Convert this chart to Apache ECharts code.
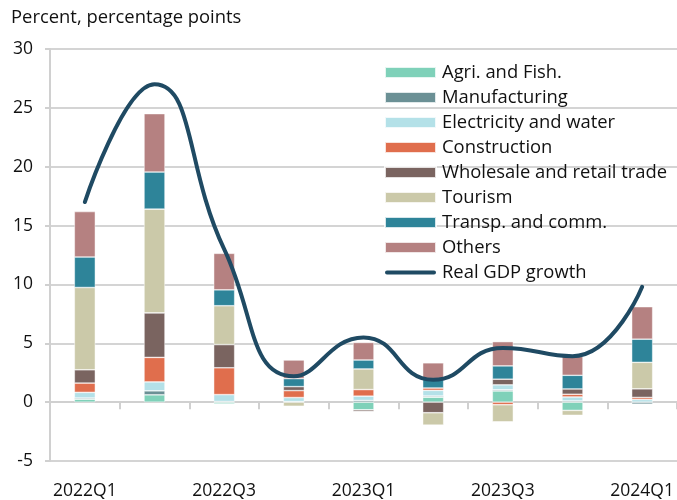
<!DOCTYPE html>
<html><head><meta charset="utf-8">
<script src="https://cdn.jsdelivr.net/npm/echarts@6/dist/echarts.min.js"></script>
<style>html,body{margin:0;padding:0;background:#fff}#c{width:677px;height:500px}</style>
</head><body><div id="c"></div>
<script>
var categories = ['2022Q1','2022Q2','2022Q3','2022Q4','2023Q1','2023Q2','2023Q3','2023Q4','2024Q1'];
var agri      = [0.25, 0.62, -0.15, 0.05, -0.65, 0.42, 0.95, -0.70, 0.00];
var manuf     = [0.10, 0.34, 0.05, 0.00, 0.14, 0.10, 0.10, 0.10, -0.17];
var elec      = [0.48, 0.76, 0.59, 0.34, 0.37, 0.48, 0.42, 0.34, 0.23];
var constr    = [0.79, 2.08, 2.28, 0.59, 0.56, 0.20, -0.22, 0.23, 0.17];
var wholesale = [1.13, 3.78, 1.97, 0.34, -0.14, -0.90, 0.48, 0.45, 0.73];
var tourism   = [6.99, 8.82, 3.30, -0.35, 1.75, -1.05, -1.45, -0.42, 2.25];
var transp    = [2.59, 3.15, 1.35, 0.68, 0.76, 0.79, 1.13, 1.16, 1.97];
var others    = [3.86, 4.96, 3.10, 1.58, 1.49, 1.35, 2.06, 1.61, 2.76];
var gdp       = [17.0, 27.0, 13.0, 2.2, 5.5, 1.9, 4.6, 3.9, 9.8];
var yTicks = {min: -5, max: 30, interval: 5};

var FONT = 'Open Sans';
var FS = 17.5;
var FS_TXT = 18.4;
var names = ['Agri. and Fish.','Manufacturing','Electricity and water','Construction','Wholesale and retail trade','Tourism','Transp. and comm.','Others'];
var colors = ['#7fd1b9','#6b9095','#b4e1e8','#e06e4d','#7a6460','#cbc9a9','#2e8499','#b58181'];
var dataSets = [agri, manuf, elec, constr, wholesale, tourism, transp, others];

var series = dataSets.map(function(d,i){
  return {name:names[i], type:'bar', stack:'s', data:d, barWidth:21,
    itemStyle:{color:colors[i], borderColor:'rgba(255,255,255,0.8)', borderWidth:0.6}, z:2};
});
series.push({name:'Real GDP growth', type:'line', data:gdp, smooth:true, symbol:'none', showSymbol:false,
  lineStyle:{color:'#1f4a63', width:4, cap:'round'}, itemStyle:{color:'#1f4a63'}, z:5});

var lineIcon = 'path://M0,0L51,0L51,0.01L0,0.01Z M0,10.99L51,10.99L51,11L0,11Z M2,3.5L49,3.5A2,2 0 0 1 49,7.5L2,7.5A2,2 0 0 1 2,3.5Z';

var chart = echarts.init(document.getElementById('c'), null, {renderer:'canvas'});
chart.setOption({
  animation:false,
  textStyle:{fontFamily:FONT},
  title:{text:'Percent, percentage points', left:11, top:9, padding:0,
    textStyle:{fontFamily:FONT, fontSize:FS_TXT, fontWeight:'normal', color:'#111'}},
  grid:{left:50, right:0, top:49, bottom:37, containLabel:false},
  legend:{orient:'vertical', left:384, top:60, padding:0, itemWidth:51, itemHeight:11, itemGap:0,
    textStyle:{fontFamily:FONT, fontSize:FS_TXT, color:'#111', height:25, lineHeight:25, padding:[0,0,0,1]},
    data:names.map(function(n){return {name:n, icon:'rect'};}).concat([{name:'Real GDP growth', icon:lineIcon, itemStyle:{color:'#1f4a63'}}])},
  xAxis:[
    {type:'category', data:categories, position:'bottom', axisLine:{onZero:true, lineStyle:{color:'#d0d0d0', width:2}},
     axisTick:{show:true, length:7, lineStyle:{color:'#d0d0d0', width:2}}, axisLabel:{show:false}},
    {type:'category', data:categories, position:'bottom', offset:0, axisLine:{show:false, onZero:false}, axisTick:{show:false},
     axisLabel:{interval:1, fontFamily:FONT, fontSize:FS, color:'#111', margin:21}}
  ],
  yAxis:{type:'value', min:yTicks.min, max:yTicks.max, interval:yTicks.interval,
    axisLine:{show:true, lineStyle:{color:'#d0d0d0', width:2}},
    axisTick:{show:true, length:5, lineStyle:{color:'#d0d0d0', width:2}},
    splitLine:{lineStyle:{color:'#d4d4d4', width:2}},
    axisLabel:{fontFamily:FONT, fontSize:FS, color:'#111', margin:17}},
  series:series
});
</script></body></html>
